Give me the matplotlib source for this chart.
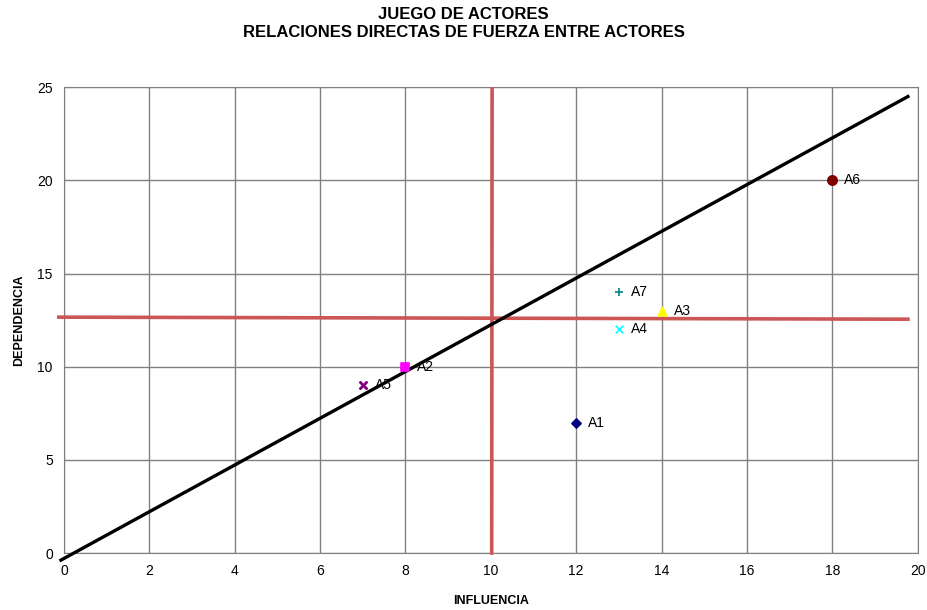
import matplotlib.pyplot as plt

plt.rcParams['font.family'] = ['Liberation Sans', 'DejaVu Sans']

# actors: influence (x), dependence (y)
actors = ['A1', 'A2', 'A3', 'A4', 'A5', 'A6', 'A7']
influencia = [12, 8, 14, 13, 7, 18, 13]
dependencia = [7, 10, 13, 12, 9, 20, 14]
markers = ['D', 's', '^', 'x', '$\\times$', 'o', '+']
colors = ['#000080', '#FF00FF', '#FFFF00', '#00FFFF', '#800080', '#800000', '#008080']
sizes = [22, 40, 38, 30, 30, 45, 35]

# reference lines
diag_x = [-0.07, 19.77]
diag_y = [-0.38, 24.5]
horiz_x = [-0.12, 19.77]
horiz_y = [12.66, 12.55]
vert_x = [10.03, 10.02]
vert_y = [24.9, 0]

fig = plt.figure(figsize=(9.27, 6.10), dpi=100)
ax = fig.add_axes([0.069, 0.0934, 0.921, 0.7636])

ax.set_xlim(0, 20)
ax.set_ylim(0, 25)
ax.set_xticks(range(0, 21, 2))
ax.set_yticks(range(0, 26, 5))
ax.grid(True, color='#808080', linewidth=1)
ax.set_axisbelow(True)
for s in ax.spines.values():
    s.set_color('#808080')
ax.tick_params(length=0, labelsize=10, pad=8)

ax.plot(horiz_x, horiz_y, color='#CC5555', linewidth=2.6, clip_on=False, zorder=3)
ax.plot(vert_x, vert_y, color='#CC5555', linewidth=2.6, clip_on=False, zorder=3)
ax.plot(diag_x, diag_y, color='black', linewidth=2.4, clip_on=False, zorder=4)

for i in range(len(actors)):
    ax.scatter(influencia[i], dependencia[i], marker=markers[i], color=colors[i],
               s=sizes[i], zorder=5, linewidths=1.2)
    ax.text(influencia[i] + 0.28, dependencia[i], actors[i], fontsize=10,
            va='center', ha='left', zorder=6)

ax.set_xlabel('INFLUENCIA', fontsize=9, fontweight='bold', labelpad=12)
ax.set_ylabel('DEPENDENCIA', fontsize=9, fontweight='bold', labelpad=9)

fig.text(0.5, 0.977, 'JUEGO DE ACTORES', ha='center', va='center',
         fontsize=12, fontweight='bold')
fig.text(0.5, 0.946, 'RELACIONES DIRECTAS DE FUERZA ENTRE ACTORES', ha='center',
         va='center', fontsize=12, fontweight='bold')

fig.savefig('out.png', dpi=100)
